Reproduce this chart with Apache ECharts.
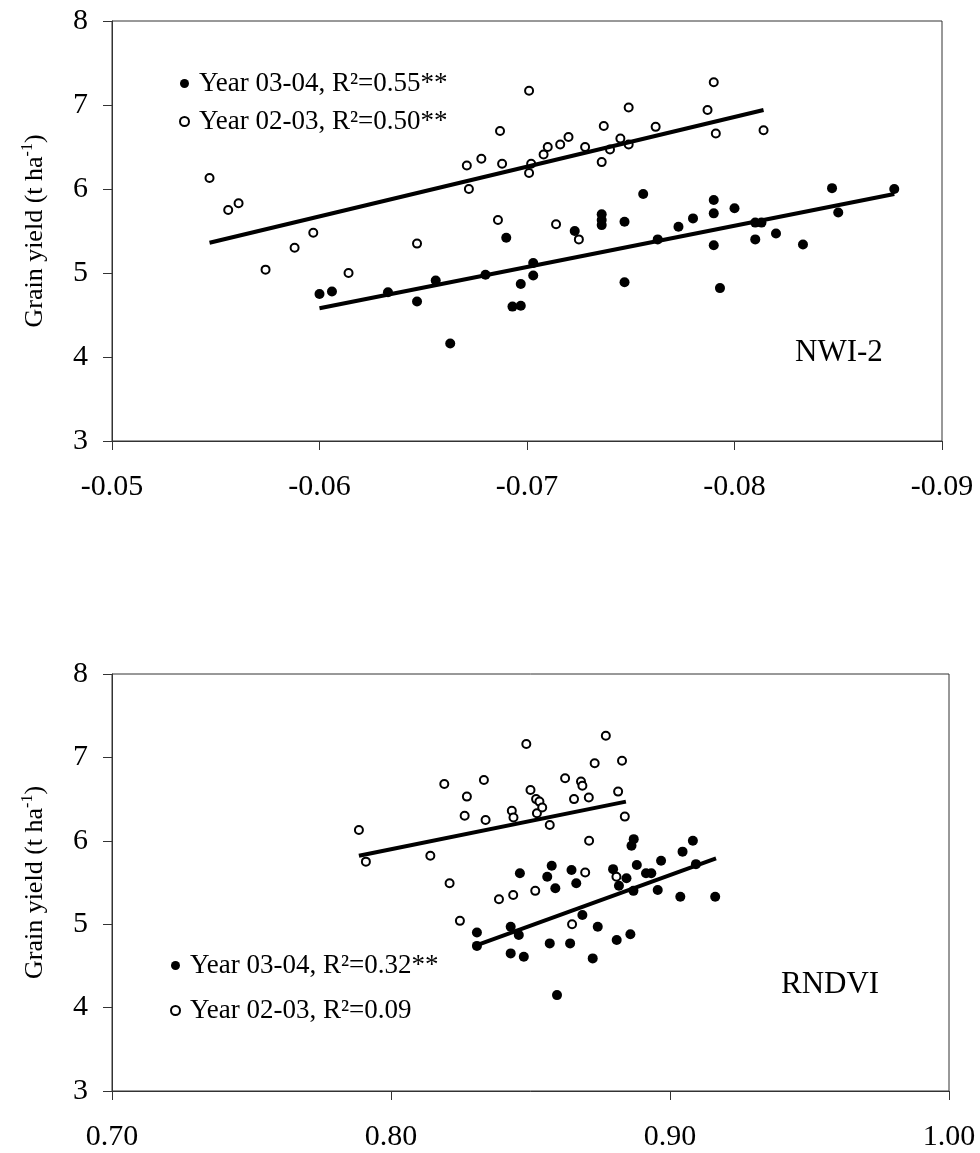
<!DOCTYPE html>
<html>
<head>
<meta charset="utf-8">
<script src="https://cdn.jsdelivr.net/npm/echarts@6/dist/echarts.min.js"></script>
<style>html,body{margin:0;padding:0;background:#fff;}#c{width:980px;height:1153px;}</style>
</head>
<body>
<div id="c"></div>
<script>
// ---- Panel 1: NWI-2 ----
const nwiX_0304 = [-0.0600,-0.0606,-0.0633,-0.0647,-0.0663,-0.0656,-0.0680,-0.0690,-0.0697,-0.0703,-0.0703,-0.0693,-0.0697,-0.0756,-0.0736,-0.0736,-0.0736,-0.0747,-0.0747,-0.0723,-0.0763,-0.0773,-0.0780,-0.0790,-0.0790,-0.0790,-0.0793,-0.0800,-0.0810,-0.0813,-0.0810,-0.0820,-0.0833,-0.0847,-0.0850,-0.0877];
const nwiY_0304 = [4.75,4.78,4.77,4.66,4.16,4.91,4.98,5.42,4.87,5.12,4.97,4.60,4.61,5.94,5.70,5.63,5.57,5.61,4.89,5.50,5.40,5.55,5.65,5.87,5.71,5.33,4.82,5.77,5.60,5.60,5.40,5.47,5.34,6.01,5.72,6.00];
const nwiX_0203 = [-0.0547,-0.0556,-0.0561,-0.0574,-0.0588,-0.0597,-0.0614,-0.0647,-0.0671,-0.0672,-0.0678,-0.0701,-0.0687,-0.0688,-0.0686,-0.0701,-0.0702,-0.0708,-0.0710,-0.0716,-0.0720,-0.0714,-0.0725,-0.0728,-0.0737,-0.0736,-0.0740,-0.0745,-0.0749,-0.0749,-0.0762,-0.0787,-0.0790,-0.0791,-0.0814];
const nwiY_0203 = [6.13,5.75,5.83,5.04,5.30,5.48,5.00,5.35,6.28,6.00,6.36,7.17,6.69,6.30,5.63,6.19,6.30,6.41,6.50,6.53,6.62,5.58,5.40,6.50,6.75,6.32,6.47,6.60,6.53,6.97,6.74,6.94,7.27,6.66,6.70];
const nwiFitX_0304 = [-0.0600,-0.0877];
const nwiFitY_0304 = [4.58,5.94];
const nwiFitX_0203 = [-0.0547,-0.0814];
const nwiFitY_0203 = [5.36,6.94];

// ---- Panel 2: RNDVI ----
const rnX_0304 = [0.8308,0.8308,0.8429,0.8458,0.8429,0.8476,0.8462,0.8560,0.8576,0.8589,0.8647,0.8664,0.8686,0.8741,0.8569,0.8642,0.8723,0.8595,0.8796,0.8817,0.8844,0.8869,0.8862,0.8870,0.8881,0.8809,0.8858,0.8914,0.8933,0.8956,0.8968,0.9037,0.9045,0.9082,0.9093,0.9162];
const rnY_0304 = [4.90,4.74,4.97,4.87,4.65,4.61,5.61,5.57,5.70,5.43,5.65,5.49,5.11,4.97,4.77,4.77,4.59,4.15,5.66,5.46,5.55,5.40,5.94,6.02,5.71,4.81,4.88,5.61,5.61,5.41,5.76,5.33,5.87,6.00,5.72,5.33];
const rnX_0203 = [0.7885,0.7910,0.8141,0.8210,0.8191,0.8272,0.8264,0.8333,0.8339,0.8247,0.8485,0.8433,0.8439,0.8500,0.8520,0.8523,0.8532,0.8542,0.8569,0.8624,0.8681,0.8686,0.8656,0.8709,0.8730,0.8828,0.8814,0.8838,0.8710,0.8696,0.8808,0.8770,0.8387,0.8438,0.8517,0.8649];
const rnY_0203 = [6.13,5.75,5.82,5.49,6.68,6.53,6.30,6.73,6.25,5.04,7.16,6.36,6.28,6.61,6.50,6.33,6.47,6.40,6.19,6.75,6.71,6.66,6.50,6.52,6.93,6.96,6.59,6.29,6.00,5.62,5.57,7.26,5.30,5.35,5.40,5.00];
const rnFitX_0304 = [0.8308,0.9165];
const rnFitY_0304 = [4.75,5.79];
const rnFitX_0203 = [0.7885,0.8842];
const rnFitY_0203 = [5.82,6.47];

const yTicks = [3,4,5,6,7,8];
const nwiTicks = [-0.05,-0.06,-0.07,-0.08,-0.09];
const rnTicks = [0.70,0.80,0.90,1.00];

const names = {
  nwi0304: 'Year 03-04, R²=0.55**',
  nwi0203: 'Year 02-03, R²=0.50**',
  rn0304: 'Year 03-04, R²=0.32**',
  rn0203: 'Year 02-03, R²=0.09'
};

const zip = (xs, ys) => xs.map((x, i) => [x, ys[i]]);
const FONT = "'Liberation Serif','Times New Roman',serif";

function yAxisDef(gi) {
  return {
    gridIndex: gi, type: 'value', min: yTicks[0], max: yTicks[yTicks.length - 1], interval: 1,
    name: '{a|Grain yield (t ha}{b|-1}{a|)}',
    nameLocation: 'middle', nameGap: 62, nameRotate: 90,
    nameTextStyle: {
      rich: {
        a: { fontFamily: FONT, fontSize: 26, color: '#000', lineHeight: 30 },
        b: { fontFamily: FONT, fontSize: 16, color: '#000', verticalAlign: 'top', lineHeight: 30, padding: [0,0,8,0] }
      }
    },
    axisLine: { show: true, lineStyle: { color: '#333', width: 1 } },
    axisTick: { show: true, inside: false, length: 9, lineStyle: { color: '#333' } },
    axisLabel: { fontFamily: FONT, fontSize: 30, color: '#000', margin: 24 },
    splitLine: { show: false }
  };
}

function xAxisDef(gi, min, max, interval, inverse) {
  return {
    gridIndex: gi, type: 'value', min, max, interval, inverse,
    axisLine: { show: true, onZero: false, lineStyle: { color: '#333', width: 1 } },
    axisTick: { show: true, inside: false, length: 9, lineStyle: { color: '#333' } },
    axisLabel: { fontFamily: FONT, fontSize: 30, color: '#000', margin: 31, formatter: v => v.toFixed(2) },
    splitLine: { show: false }
  };
}

const filled = (name, data, xi, yi) => ({
  name, type: 'scatter', xAxisIndex: xi, yAxisIndex: yi, data,
  symbol: 'circle', symbolSize: 10, itemStyle: { color: '#000', opacity: 1 }, z: 3
});
const open = (name, data, xi, yi) => ({
  name, type: 'scatter', xAxisIndex: xi, yAxisIndex: yi, data,
  symbol: 'circle', symbolSize: 8,
  itemStyle: { color: '#fff', borderColor: '#000', borderWidth: 2, opacity: 1 }, z: 3
});
const fit = (data, xi, yi) => ({
  type: 'line', xAxisIndex: xi, yAxisIndex: yi, data, symbol: 'none',
  lineStyle: { color: '#000', width: 4 }, z: 4, silent: true
});

const chart = echarts.init(document.getElementById('c'), null, { renderer: 'canvas' });
chart.setOption({
  backgroundColor: '#fff',
  animation: false,
  grid: [
    { left: 112, top: 21, width: 830, height: 420, show: true, borderColor: '#333', borderWidth: 1, backgroundColor: 'transparent' },
    { left: 112, top: 674, width: 837, height: 417, show: true, borderColor: '#333', borderWidth: 1, backgroundColor: 'transparent' }
  ],
  xAxis: [
    xAxisDef(0, nwiTicks[nwiTicks.length - 1], nwiTicks[0], 0.01, true),
    xAxisDef(1, rnTicks[0], rnTicks[rnTicks.length - 1], 0.1, false)
  ],
  yAxis: [yAxisDef(0), yAxisDef(1)],
  legend: [
    {
      data: [names.nwi0304, names.nwi0203], orient: 'vertical', left: 174, top: 65,
      itemWidth: 9, itemHeight: 9, itemGap: 11,
      textStyle: { fontFamily: FONT, fontSize: 27, color: '#000', padding: [0,0,0,5] },
      selectedMode: false
    },
    {
      data: [names.rn0304, names.rn0203], orient: 'vertical', left: 165, top: 947,
      itemWidth: 9, itemHeight: 9, itemGap: 18,
      textStyle: { fontFamily: FONT, fontSize: 27, color: '#000', padding: [0,0,0,5] },
      selectedMode: false
    }
  ],
  graphic: [
    { type: 'text', left: 795, top: 337, style: { text: 'NWI-2', font: '31px ' + FONT, fill: '#000' } },
    { type: 'text', left: 781, top: 969, style: { text: 'RNDVI', font: '31px ' + FONT, fill: '#000' } }
  ],
  series: [
    fit(zip(nwiFitX_0203, nwiFitY_0203), 0, 0),
    fit(zip(nwiFitX_0304, nwiFitY_0304), 0, 0),
    filled(names.nwi0304, zip(nwiX_0304, nwiY_0304), 0, 0),
    open(names.nwi0203, zip(nwiX_0203, nwiY_0203), 0, 0),
    fit(zip(rnFitX_0203, rnFitY_0203), 1, 1),
    fit(zip(rnFitX_0304, rnFitY_0304), 1, 1),
    filled(names.rn0304, zip(rnX_0304, rnY_0304), 1, 1),
    open(names.rn0203, zip(rnX_0203, rnY_0203), 1, 1)
  ]
});
</script>
</body>
</html>
